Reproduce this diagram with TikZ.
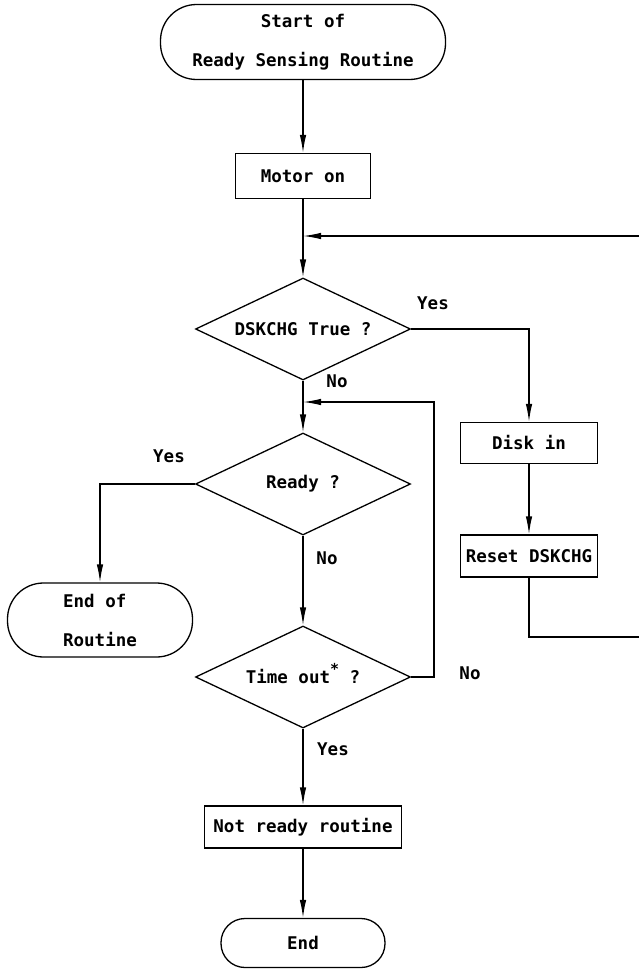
\documentclass[tikz,border=0pt]{standalone}
\usepackage{fontspec}
\setmonofont{DejaVu Sans Mono}
\usepackage{tikz}
\usetikzlibrary{shapes.geometric}
\usetikzlibrary{arrows.meta}
\tikzset{>={Latex[length=18pt,width=6.5pt]}}
\tikzset{
  every node/.style={font=\ttfamily\bfseries\fontsize{17.5}{39}\selectfont},
  terminal/.style={draw, line width=1.3pt, rectangle, inner sep=0pt},
  process/.style={draw, line width=1.3pt, rectangle, inner sep=0pt},
  decision/.style={draw, line width=1.3pt, diamond, aspect=2.1, inner sep=0pt,
    minimum width=215pt, minimum height=102pt},
  answer/.style={inner sep=0pt}
}

\begin{document}
\begin{tikzpicture}[x=1pt,y=-1pt,line width=1.3pt]
            \useasboundingbox (0,0) rectangle (639,969);
            \node[terminal, rounded corners=36pt, minimum width=285pt, minimum height=75pt, align=center] (start) at (303,42) {Start of\\Ready Sensing Routine};
            \node[process, minimum width=135pt, minimum height=45pt] (motor) at (303,176) {Motor on};
            \node[decision] (dskchg) at (303,329) {DSKCHG True ?};
            \node[decision] (ready) at (303,484) {Ready ?};
            \node[decision] (tout) at (303,677) {Time out\smash{\raisebox{0.55em}{\fontsize{15}{15}\selectfont*}} ?};
            \node[process, minimum width=197pt, minimum height=42pt] (notready) at (303,827) {Not ready routine};
            \node[terminal, rounded corners=24pt, minimum width=164pt, minimum height=49pt] (end) at (303,943) {End};
            \node[process, minimum width=137pt, minimum height=41pt] (diskin) at (529,443) {Disk in};
            \node[process, minimum width=137pt, minimum height=42pt] (reset) at (529,556) {Reset DSKCHG};
            \node[terminal, rounded corners=36pt, minimum width=185pt, minimum height=74pt, align=left] (endr) at (100,620) {End of\\Routine};
            \node[answer] (yes1) at (433,303) {Yes};
            \node[answer] (no1) at (337,381) {No};
            \node[answer] (yes2) at (169,456) {Yes};
            \node[answer] (no2) at (327,558) {No};
            \node[answer] (no3) at (470,673) {No};
            \node[answer] (yes3) at (333,749) {Yes};
            \coordinate (join) at (303,236);
            \coordinate (rtop) at (639,236);
            \coordinate (rbot) at (639,637);
            \coordinate (loop) at (434,402);
            \coordinate (back) at (303,402);
            \draw[->] (start) to (motor);
            \draw (motor) to (join);
            \draw[->] (join) to (dskchg);
            \draw[->] (rtop) to (join);
            \draw[->] (dskchg.east) -| (diskin);
            \draw[->] (diskin) to (reset);
            \draw (reset) |- (rbot);
            \draw[->] (dskchg) to (ready);
            \draw[->] (ready.west) -| (endr);
            \draw[->] (ready) to (tout);
            \draw[->] (tout.east) -| (loop) -- (back);
            \draw[->] (tout) to (notready);
            \draw[->] (notready) to (end);
        \end{tikzpicture}
\end{document}
